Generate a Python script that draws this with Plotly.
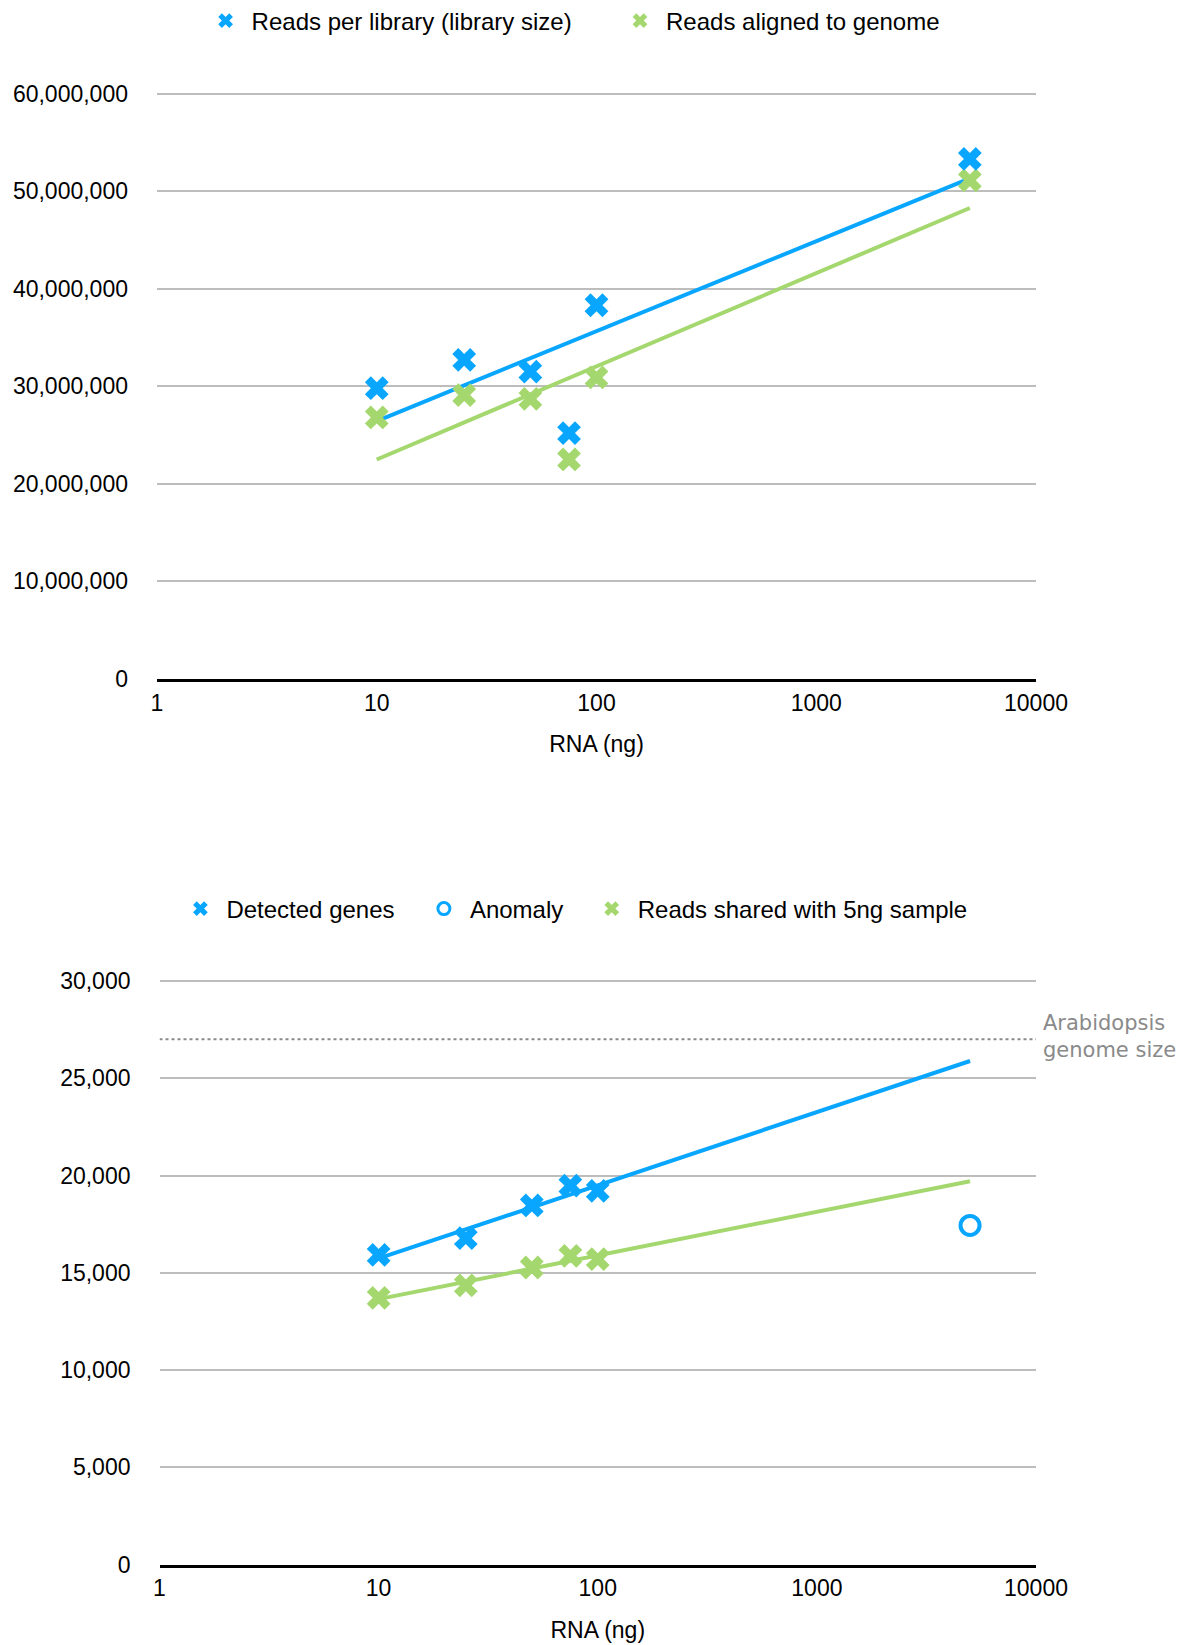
import numpy as np
import plotly.graph_objects as go

# ---------------- data ----------------
rna_ng = [10, 25, 50, 75, 100, 5000]
reads_per_library = [29.8e6, 32.7e6, 31.5e6, 25.2e6, 38.3e6, 53.3e6]
reads_aligned = [26.8e6, 29.1e6, 28.7e6, 22.5e6, 30.9e6, 51.1e6]

rna_ng_genes = [10, 25, 50, 75, 100]
detected_genes = [15920, 16780, 18460, 19480, 19210]
reads_shared_5ng = [13710, 14350, 15270, 15870, 15700]
anomaly_x = [5000]
anomaly_y = [17430]
arabidopsis_genes = 27000

x_tickvals = [1, 10, 100, 1000, 10000]
x_ticktext = ["1", "10", "100", "1000", "10000"]
top_y_ticks = [0, 10e6, 20e6, 30e6, 40e6, 50e6, 60e6]
bot_y_ticks = [0, 5000, 10000, 15000, 20000, 25000, 30000]

BLUE = "#08A6FF"
GREEN = "#A4D86E"
GRID = "#BDBDBD"
FONT = "Liberation Sans, Arial, Helvetica, sans-serif"
FS = 23
LFS = 24

W, H = 1192, 1645


def trend(xs, ys, x_end):
    b, a = np.polyfit(np.log10(xs), ys, 1)
    xe = np.array([min(xs), x_end], dtype=float)
    return xe, a + b * np.log10(xe)


fig = go.Figure()

# ---- top chart ----
tx, ty = trend(rna_ng, reads_per_library, max(rna_ng))
fig.add_trace(go.Scatter(x=tx, y=ty, mode="lines", line=dict(color=BLUE, width=4),
                         showlegend=False, xaxis="x", yaxis="y", hoverinfo="skip"))
tx, ty = trend(rna_ng, reads_aligned, max(rna_ng))
fig.add_trace(go.Scatter(x=tx, y=ty, mode="lines", line=dict(color=GREEN, width=4),
                         showlegend=False, xaxis="x", yaxis="y", hoverinfo="skip"))
fig.add_trace(go.Scatter(x=rna_ng, y=reads_aligned, mode="markers",
                         marker=dict(symbol="x", size=21, color=GREEN, line=dict(width=0)),
                         showlegend=False, xaxis="x", yaxis="y"))
fig.add_trace(go.Scatter(x=rna_ng, y=reads_per_library, mode="markers",
                         marker=dict(symbol="x", size=21, color=BLUE, line=dict(width=0)),
                         showlegend=False, xaxis="x", yaxis="y"))
# legend entries (top)
fig.add_trace(go.Scatter(x=[None], y=[None], mode="markers", name="Reads per library (library size)",
                         marker=dict(symbol="x", size=13, color=BLUE, line=dict(width=0)),
                         legend="legend", xaxis="x", yaxis="y"))
fig.add_trace(go.Scatter(x=[None], y=[None], mode="markers", name="Reads aligned to genome",
                         marker=dict(symbol="x", size=13, color=GREEN, line=dict(width=0)),
                         legend="legend2", xaxis="x", yaxis="y"))

# ---- bottom chart ----
fig.add_trace(go.Scatter(x=[1, 10000], y=[arabidopsis_genes, arabidopsis_genes], mode="lines",
                         line=dict(color="#8A8A8A", width=2, dash="dot"),
                         showlegend=False, xaxis="x2", yaxis="y2", hoverinfo="skip"))
tx, ty = trend(rna_ng_genes, detected_genes, anomaly_x[0])
fig.add_trace(go.Scatter(x=tx, y=ty, mode="lines", line=dict(color=BLUE, width=4),
                         showlegend=False, xaxis="x2", yaxis="y2", hoverinfo="skip"))
tx, ty = trend(rna_ng_genes, reads_shared_5ng, anomaly_x[0])
fig.add_trace(go.Scatter(x=tx, y=ty, mode="lines", line=dict(color=GREEN, width=4),
                         showlegend=False, xaxis="x2", yaxis="y2", hoverinfo="skip"))
fig.add_trace(go.Scatter(x=rna_ng_genes, y=reads_shared_5ng, mode="markers",
                         marker=dict(symbol="x", size=21, color=GREEN, line=dict(width=0)),
                         showlegend=False, xaxis="x2", yaxis="y2"))
fig.add_trace(go.Scatter(x=rna_ng_genes, y=detected_genes, mode="markers",
                         marker=dict(symbol="x", size=21, color=BLUE, line=dict(width=0)),
                         showlegend=False, xaxis="x2", yaxis="y2"))
fig.add_trace(go.Scatter(x=anomaly_x, y=anomaly_y, mode="markers",
                         marker=dict(symbol="circle-open", size=19, color=BLUE, line=dict(width=4)),
                         showlegend=False, xaxis="x2", yaxis="y2"))
# legend entries (bottom)
fig.add_trace(go.Scatter(x=[None], y=[None], mode="markers", name="Detected genes",
                         marker=dict(symbol="x", size=13, color=BLUE, line=dict(width=0)),
                         legend="legend3", xaxis="x2", yaxis="y2"))
fig.add_trace(go.Scatter(x=[None], y=[None], mode="markers", name="Anomaly",
                         marker=dict(symbol="circle-open", size=12, color=BLUE, line=dict(width=3)),
                         legend="legend4", xaxis="x2", yaxis="y2"))
fig.add_trace(go.Scatter(x=[None], y=[None], mode="markers", name="Reads shared with 5ng sample",
                         marker=dict(symbol="x", size=13, color=GREEN, line=dict(width=0)),
                         legend="legend5", xaxis="x2", yaxis="y2"))


def px_x(p):
    return p / W


def px_y(p):
    return (H - p) / H


xaxis_common = dict(type="log", range=[0, 4], tickvals=x_tickvals, ticktext=x_ticktext,
                    showgrid=False, zeroline=False, showline=True, linecolor="black",
                    linewidth=3, ticks="", tickfont=dict(size=FS, color="black"),
                    ticklabelstandoff=1, fixedrange=True,
                    title=dict(text="RNA (ng)", font=dict(size=FS, color="black"), standoff=22))
yaxis_common = dict(showgrid=True, gridcolor=GRID, gridwidth=2, zeroline=False,
                    showline=False, ticks="", tickfont=dict(size=FS, color="black"),
                    ticklabelstandoff=28, tickformat=",d", fixedrange=True)

ITEMW = 42
SYM_OFF = 5 + ITEMW / 2


def leg(cx, cy):
    return dict(orientation="h", x=px_x(cx - SYM_OFF), y=px_y(cy), xanchor="left",
                yanchor="middle", font=dict(size=LFS, color="black"), itemwidth=ITEMW,
                bgcolor="rgba(0,0,0,0)", borderwidth=0)


top_px_per = (679 - 93.5) / 60e6
bot_px_per = (1564.5 - 981) / 30000

fig.update_layout(
    width=W, height=H,
    margin=dict(l=0, r=0, t=0, b=0, autoexpand=False),
    paper_bgcolor="white", plot_bgcolor="white",
    font=dict(family=FONT, size=FS, color="black"),
    xaxis=dict(domain=[px_x(157), px_x(1036)], anchor="y", **xaxis_common),
    yaxis=dict(domain=[px_y(679), px_y(93.5 - 0.3e6 * top_px_per)], anchor="x",
               range=[0, 60.3e6], tickvals=top_y_ticks, **yaxis_common),
    xaxis2=dict(domain=[px_x(159.5), px_x(1036)], anchor="y2", **xaxis_common),
    yaxis2=dict(domain=[px_y(1564.5), px_y(981 - 150 * bot_px_per)], anchor="x2",
                range=[0, 30150], tickvals=bot_y_ticks, **yaxis_common),
    legend=leg(225.6, 21),
    legend2=leg(640.0, 21),
    legend3=leg(200.4, 909),
    legend4=leg(443.9, 909),
    legend5=leg(611.7, 909),
    annotations=[
        dict(text="Arabidopsis<br>genome size", xref="paper", yref="y2",
             x=px_x(1041), y=arabidopsis_genes, xanchor="left", yanchor="middle",
             yshift=3, showarrow=False, align="left",
             font=dict(family="DejaVu Sans, Verdana, sans-serif", size=21, color="#8A8A8A")),
    ],
)

fig.write_html("out.html")
